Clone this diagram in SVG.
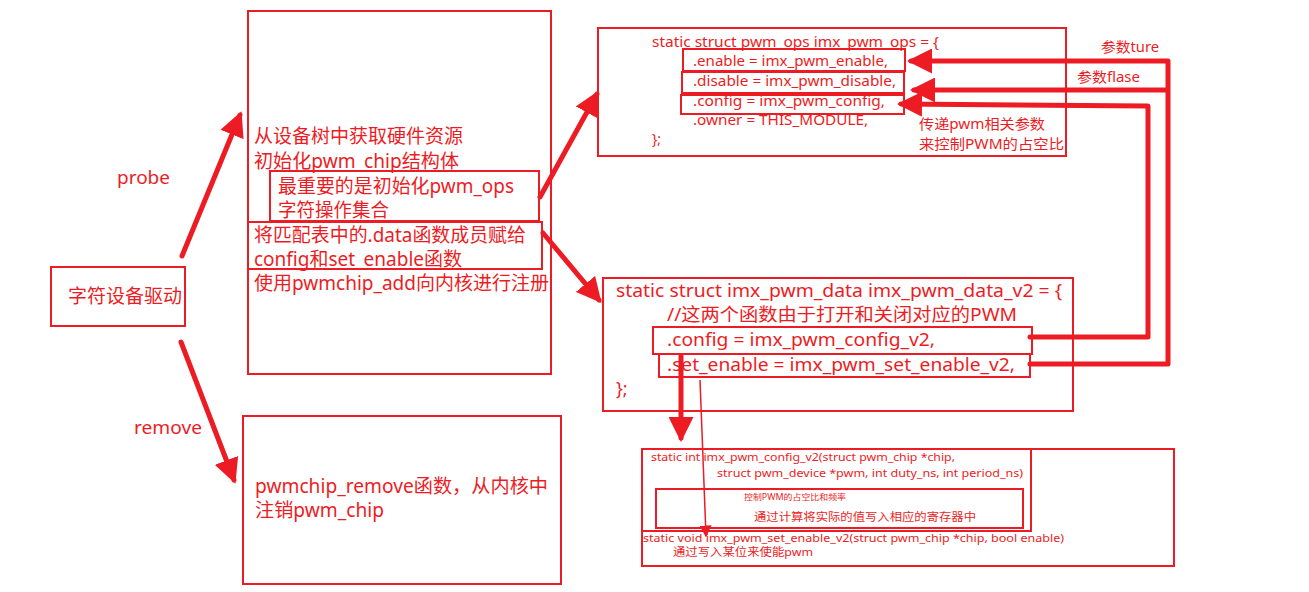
<svg xmlns="http://www.w3.org/2000/svg" width="1309" height="592" viewBox="0 0 1309 592">
<style>
.bx{fill:none;stroke:#ED1C24;stroke-width:2}
.t{fill:#ED1C24;font-family:"Noto Sans","Noto Sans CJK SC",sans-serif}
.s19{font-size:19px}
.s18{font-size:18px}
.s14{font-size:14px}
.s11{font-size:11px}
.s8{font-size:8px}
.thick{fill:none;stroke:#ED1C24;stroke-width:5;stroke-linecap:round;stroke-linejoin:round}
.thin{fill:none;stroke:#ED1C24;stroke-width:1.5}
</style>
<defs>
<marker id="ah" markerWidth="5" markerHeight="5" refX="4.2" refY="2.5" orient="auto" markerUnits="strokeWidth">
<path d="M0,0 L5,2.5 L0,5 Z" fill="#ED1C24"/>
</marker>
<marker id="ahs" markerWidth="8" markerHeight="8" refX="7" refY="4" orient="auto" markerUnits="strokeWidth">
<path d="M0,0 L8,4 L0,8 Z" fill="#ED1C24"/>
</marker>
</defs>
<rect width="1309" height="592" fill="#ffffff"/>

<g id="driver">
<rect class="bx" x="51" y="267" width="134" height="59"/>
<text class="t s19" x="68" y="303" textLength="114" lengthAdjust="spacingAndGlyphs">字符设备驱动</text>
</g>

<g id="probe-box">
<rect class="bx" x="248" y="11" width="303" height="363"/>
<text class="t s19" x="254" y="143" textLength="209" lengthAdjust="spacingAndGlyphs">从设备树中获取硬件资源</text>
<text class="t s19" x="254" y="168" textLength="205" lengthAdjust="spacingAndGlyphs">初始化pwm_chip结构体</text>
<rect class="bx" x="270" y="171" width="269" height="50"/>
<text class="t s19" x="278" y="193" textLength="236" lengthAdjust="spacingAndGlyphs">最重要的是初始化pwm_ops</text>
<text class="t s19" x="278" y="217" textLength="111" lengthAdjust="spacingAndGlyphs">字符操作集合</text>
<rect class="bx" x="248" y="222" width="294" height="47"/>
<text class="t s19" x="254" y="242" textLength="272" lengthAdjust="spacingAndGlyphs">将匹配表中的.data函数成员赋给</text>
<text class="t s19" x="254" y="266" textLength="208" lengthAdjust="spacingAndGlyphs">config和set_enable函数</text>
<text class="t s19" x="254" y="290" textLength="295" lengthAdjust="spacingAndGlyphs">使用pwmchip_add向内核进行注册</text>
</g>

<g id="remove-box">
<rect class="bx" x="243" y="416" width="318" height="168"/>
<text class="t s19" x="255" y="493" textLength="293" lengthAdjust="spacingAndGlyphs">pwmchip_remove函数，从内核中</text>
<text class="t s19" x="255" y="517" textLength="129" lengthAdjust="spacingAndGlyphs">注销pwm_chip</text>
</g>

<g id="ops-box">
<rect class="bx" x="598" y="28" width="468" height="128"/>
<text class="t s14" x="652" y="47" textLength="287" lengthAdjust="spacingAndGlyphs">static struct pwm_ops imx_pwm_ops = {</text>
<rect class="bx" x="683" y="49" width="222" height="22"/>
<text class="t s14" x="693" y="66" textLength="195" lengthAdjust="spacingAndGlyphs">.enable = imx_pwm_enable,</text>
<rect class="bx" x="682" y="72" width="222" height="21"/>
<text class="t s14" x="693" y="86" textLength="203" lengthAdjust="spacingAndGlyphs">.disable = imx_pwm_disable,</text>
<rect class="bx" x="681" y="95" width="223" height="19"/>
<text class="t s14" x="693" y="106" textLength="192" lengthAdjust="spacingAndGlyphs">.config = imx_pwm_config,</text>
<text class="t s14" x="693" y="125" textLength="175" lengthAdjust="spacingAndGlyphs">.owner = THIS_MODULE,</text>
<text class="t s14" x="652" y="144">};</text>
<text class="t s14" x="919" y="129" textLength="126" lengthAdjust="spacingAndGlyphs">传递pwm相关参数</text>
<text class="t s14" x="919" y="149" textLength="145" lengthAdjust="spacingAndGlyphs">来控制PWM的占空比</text>
</g>

<g id="data-box">
<rect class="bx" x="603" y="278" width="470" height="133"/>
<text class="t s18" x="616" y="297" textLength="446" lengthAdjust="spacingAndGlyphs">static struct imx_pwm_data imx_pwm_data_v2 = {</text>
<text class="t s18" x="667" y="321" textLength="350" lengthAdjust="spacingAndGlyphs">//这两个函数由于打开和关闭对应的PWM</text>
<rect class="bx" x="653" y="327" width="379" height="27"/>
<text class="t s18" x="667" y="346" textLength="268" lengthAdjust="spacingAndGlyphs">.config = imx_pwm_config_v2,</text>
<rect class="bx" x="659" y="354" width="371" height="23"/>
<text class="t s18" x="667" y="371" textLength="348" lengthAdjust="spacingAndGlyphs">.set_enable = imx_pwm_set_enable_v2,</text>
<text class="t s18" x="616" y="395">};</text>
</g>

<g id="impl-box">
<rect class="bx" x="642" y="449" width="532" height="117"/>
<polyline class="bx" points="642,449 1031,449 1031,531 642,531"/>
<text class="t s11" x="651" y="461" textLength="304" lengthAdjust="spacingAndGlyphs">static int imx_pwm_config_v2(struct pwm_chip *chip,</text>
<text class="t s11" x="717" y="477" textLength="306" lengthAdjust="spacingAndGlyphs">struct pwm_device *pwm, int duty_ns, int period_ns)</text>
<rect class="bx" x="656" y="489" width="367" height="39"/>
<text class="t s8" x="744" y="500" textLength="102" lengthAdjust="spacingAndGlyphs">控制PWM的占空比和频率</text>
<text class="t s11" x="754" y="521" textLength="222" lengthAdjust="spacingAndGlyphs">通过计算将实际的值写入相应的寄存器中</text>
<text class="t s11" x="643" y="542" textLength="421" lengthAdjust="spacingAndGlyphs">static void imx_pwm_set_enable_v2(struct pwm_chip *chip, bool enable)</text>
<text class="t s11" x="673" y="556" textLength="140" lengthAdjust="spacingAndGlyphs">通过写入某位来使能pwm</text>
</g>

<g id="labels">
<text class="t s18" x="117" y="184" textLength="53" lengthAdjust="spacingAndGlyphs">probe</text>
<text class="t s18" x="134" y="434" textLength="68" lengthAdjust="spacingAndGlyphs">remove</text>
<text class="t s14" x="1101" y="52" textLength="58" lengthAdjust="spacingAndGlyphs">参数ture</text>
<text class="t s14" x="1077" y="82" textLength="63" lengthAdjust="spacingAndGlyphs">参数flase</text>
</g>

<g id="connectors">
<line class="thick" x1="182" y1="256" x2="240" y2="115" marker-end="url(#ah)"/>
<line class="thick" x1="181" y1="342" x2="234" y2="480" marker-end="url(#ah)"/>
<line class="thick" x1="540" y1="197" x2="597" y2="94" marker-end="url(#ah)"/>
<line class="thick" x1="543" y1="233" x2="599" y2="300" marker-end="url(#ah)"/>
<polyline class="thick" points="1030,364 1168,364 1168,61 911,61" marker-end="url(#ah)"/>
<polyline class="thick" points="1167,90 914,90" marker-end="url(#ah)"/>
<polyline class="thick" points="1030,337 1148,337 1148,106 901,104" marker-end="url(#ah)"/>
<line class="thick" x1="681" y1="356" x2="681" y2="438" marker-end="url(#ah)"/>
<line class="thin" x1="700" y1="380" x2="706" y2="536" marker-end="url(#ahs)"/>
</g>
</svg>
